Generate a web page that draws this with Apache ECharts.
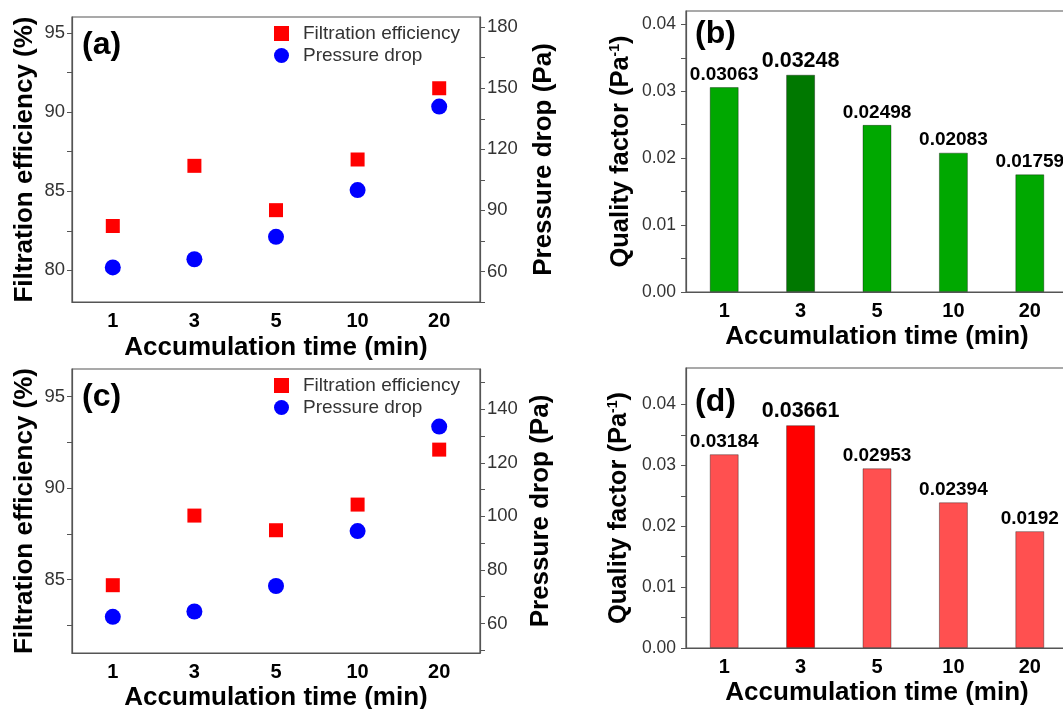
<!DOCTYPE html>
<html><head><meta charset="utf-8">
<script src="https://cdn.jsdelivr.net/npm/echarts@6/dist/echarts.min.js"></script>
<style>html,body{margin:0;padding:0;background:#fff}#c{width:1063px;height:709px}</style>
</head><body><div id="c"></div>
<script>
// ---- data ----
const categories = ['1', '3', '5', '10', '20'];
const effA = [82.8, 86.6, 83.8, 87.0, 91.5];
const dropA = [62, 66, 77, 100, 141];
const qfB = [0.03063, 0.03248, 0.02498, 0.02083, 0.01759];
const effC = [84.7, 88.5, 87.7, 89.1, 92.1];
const dropC = [62.5, 64.5, 74, 94.5, 133.5];
const qfD = [0.03184, 0.03661, 0.02953, 0.02394, 0.0192];
const highlightIndex = 1;
// ---- tick labels ----
const effTicksA = [80, 85, 90, 95];
const effMinorA = [80, 82.5, 85, 87.5, 90, 92.5, 95];
const dropTicksA = [60, 90, 120, 150, 180];
const dropMinorA = [45, 60, 75, 90, 105, 120, 135, 150, 165, 180];
const effTicksC = [85, 90, 95];
const effMinorC = [82.5, 85, 87.5, 90, 92.5, 95];
const dropTicksC = [60, 80, 100, 120, 140];
const dropMinorC = [50, 60, 70, 80, 90, 100, 110, 120, 130, 140, 150];
const qfTicks = [0, 0.01, 0.02, 0.03, 0.04];
const qfMinor = [0, 0.005, 0.01, 0.015, 0.02, 0.025, 0.03, 0.035, 0.04];

const FONT = 'Liberation Sans, Arial, sans-serif';
const AX = '#555';
const chart = echarts.init(document.getElementById('c'), null, {renderer: 'canvas'});

function xAxis(gridIndex, nameGap) {
  return {
    type: 'category', gridIndex, data: categories,
    name: 'Accumulation time (min)', nameLocation: 'middle', nameGap,
    nameTextStyle: {fontFamily: FONT, fontSize: 26, fontWeight: 'bold', color: '#000'},
    axisLine: {lineStyle: {color: AX, width: 1.2}},
    axisTick: {alignWithLabel: true, length: 5, lineStyle: {color: AX}},
    axisLabel: {fontFamily: FONT, fontSize: 20, fontWeight: 'bold', color: '#000', margin: 9},
    splitLine: {show: false}
  };
}
function valAxis(o) {
  return Object.assign({
    type: 'value', nameLocation: 'middle', nameRotate: 90,
    nameTextStyle: {fontFamily: FONT, fontSize: 26, fontWeight: 'bold', color: '#000'},
    axisLine: {show: true, lineStyle: {color: AX, width: 1.2}},
    splitLine: {show: false}
  }, o);
}
function effAxis(gridIndex, min, max, labels, ticks) {
  return valAxis({
    gridIndex, min, max, position: 'left',
    name: 'Filtration efficiency (%)', nameGap: 34,
    axisTick: {show: true, length: 5, customValues: ticks, lineStyle: {color: AX}},
    axisLabel: {customValues: labels, fontFamily: FONT, fontSize: 18.5, color: '#333', margin: 7}
  });
}
function dropAxis(gridIndex, min, max, labels, ticks, nameGap) {
  return valAxis({
    gridIndex, min, max, position: 'right',
    name: 'Pressure drop (Pa)', nameGap,
    axisTick: {show: true, length: 5, customValues: ticks, lineStyle: {color: AX}},
    axisLabel: {customValues: labels, fontFamily: FONT, fontSize: 18.5, color: '#333', margin: 7}
  });
}
function qfAxis(gridIndex, max, nameGap) {
  return valAxis({
    gridIndex, min: 0, max, position: 'left',
    name: '{t|Quality factor (Pa}{s|-1}{t|)}', nameGap,
    nameTextStyle: {rich: {
      t: {fontFamily: FONT, fontSize: 25.5, fontWeight: 'bold', color: '#000'},
      s: {fontFamily: FONT, fontSize: 14, fontWeight: 'bold', color: '#000', verticalAlign: 'top'}
    }},
    axisTick: {show: true, length: 5, customValues: qfMinor, lineStyle: {color: AX}},
    axisLabel: {customValues: qfTicks, fontFamily: FONT, fontSize: 17.5, color: '#333', margin: 10,
      formatter: v => v.toFixed(2)}
  });
}
function bars(vals, normal, dark) {
  return vals.map((v, i) => i === highlightIndex
    ? {value: v, itemStyle: {color: dark}, label: {fontSize: 21.5}}
    : {value: v, itemStyle: {color: normal}});
}
function legend(left, top) {
  return {
    left, top, orient: 'vertical', itemWidth: 15, itemHeight: 15, itemGap: 3,
    padding: 0,
    data: [{name: 'Filtration efficiency', icon: 'rect'}, {name: 'Pressure drop', icon: 'circle'}],
    formatter: n => '{t|' + n + '}',
    textStyle: {rich: {t: {fontFamily: FONT, fontSize: 19, color: '#333', padding: [0, 0, 0, 9]}}}
  };
}
const gridStyle = {show: true, borderColor: AX, borderWidth: 1.2, backgroundColor: 'transparent',
  containLabel: false, outerBoundsMode: 'none'};
const panelTitle = (text, left, top) => ({text, left, top, padding: 0,
  textStyle: {fontFamily: FONT, fontSize: 32, fontWeight: 'bold', color: '#000'}});
const scatterStyle = c => ({color: c, opacity: 1});

chart.setOption({
  backgroundColor: '#fff',
  animation: false,
  title: [panelTitle('(a)', 82, 29), panelTitle('(b)', 695, 18), panelTitle('(c)', 82, 381), panelTitle('(d)', 695, 386)],
  legend: [legend(274, 24), legend(274, 376)],
  grid: [
    Object.assign({left: 72, top: 17, width: 408, height: 285}, gridStyle),
    Object.assign({left: 686, top: 11, width: 382, height: 281}, gridStyle),
    Object.assign({left: 72, top: 369, width: 408, height: 284}, gridStyle),
    Object.assign({left: 686, top: 368, width: 382, height: 280}, gridStyle)
  ],
  xAxis: [xAxis(0, 33), xAxis(1, 32), xAxis(2, 32), xAxis(3, 32)],
  yAxis: [
    effAxis(0, 78, 96, effTicksA, effMinorA),
    dropAxis(0, 45, 185, dropTicksA, dropMinorA, 51),
    qfAxis(1, 0.042, 52),
    effAxis(2, 81, 96.5, effTicksC, effMinorC),
    dropAxis(2, 49, 155, dropTicksC, dropMinorC, 48),
    qfAxis(3, 0.046, 54)
  ],
  series: [
    {name: 'Filtration efficiency', type: 'scatter', xAxisIndex: 0, yAxisIndex: 0, symbol: 'rect', symbolSize: 14, itemStyle: scatterStyle('#ff0000'), data: effA, z: 3},
    {name: 'Pressure drop', type: 'scatter', xAxisIndex: 0, yAxisIndex: 1, symbol: 'circle', symbolSize: 16, itemStyle: scatterStyle('#0000ff'), data: dropA, z: 4},
    {name: 'QF b', type: 'bar', xAxisIndex: 1, yAxisIndex: 2, barWidth: 29,
      itemStyle: {borderColor: 'rgba(0,0,0,0.35)', borderWidth: 1},
      label: {show: true, position: 'top', distance: 3, fontFamily: FONT, fontSize: 19, fontWeight: 'bold', color: '#000', formatter: p => String(p.value)},
      data: bars(qfB, '#00a800', '#007800')},
    {name: 'Filtration efficiency', type: 'scatter', xAxisIndex: 2, yAxisIndex: 3, symbol: 'rect', symbolSize: 14, itemStyle: scatterStyle('#ff0000'), data: effC, z: 3},
    {name: 'Pressure drop', type: 'scatter', xAxisIndex: 2, yAxisIndex: 4, symbol: 'circle', symbolSize: 16, itemStyle: scatterStyle('#0000ff'), data: dropC, z: 4},
    {name: 'QF d', type: 'bar', xAxisIndex: 3, yAxisIndex: 5, barWidth: 29,
      itemStyle: {borderColor: 'rgba(0,0,0,0.35)', borderWidth: 1},
      label: {show: true, position: 'top', distance: 3, fontFamily: FONT, fontSize: 19, fontWeight: 'bold', color: '#000', formatter: p => String(p.value)},
      data: bars(qfD, '#ff5050', '#ff0000')}
  ]
});
</script></body></html>
